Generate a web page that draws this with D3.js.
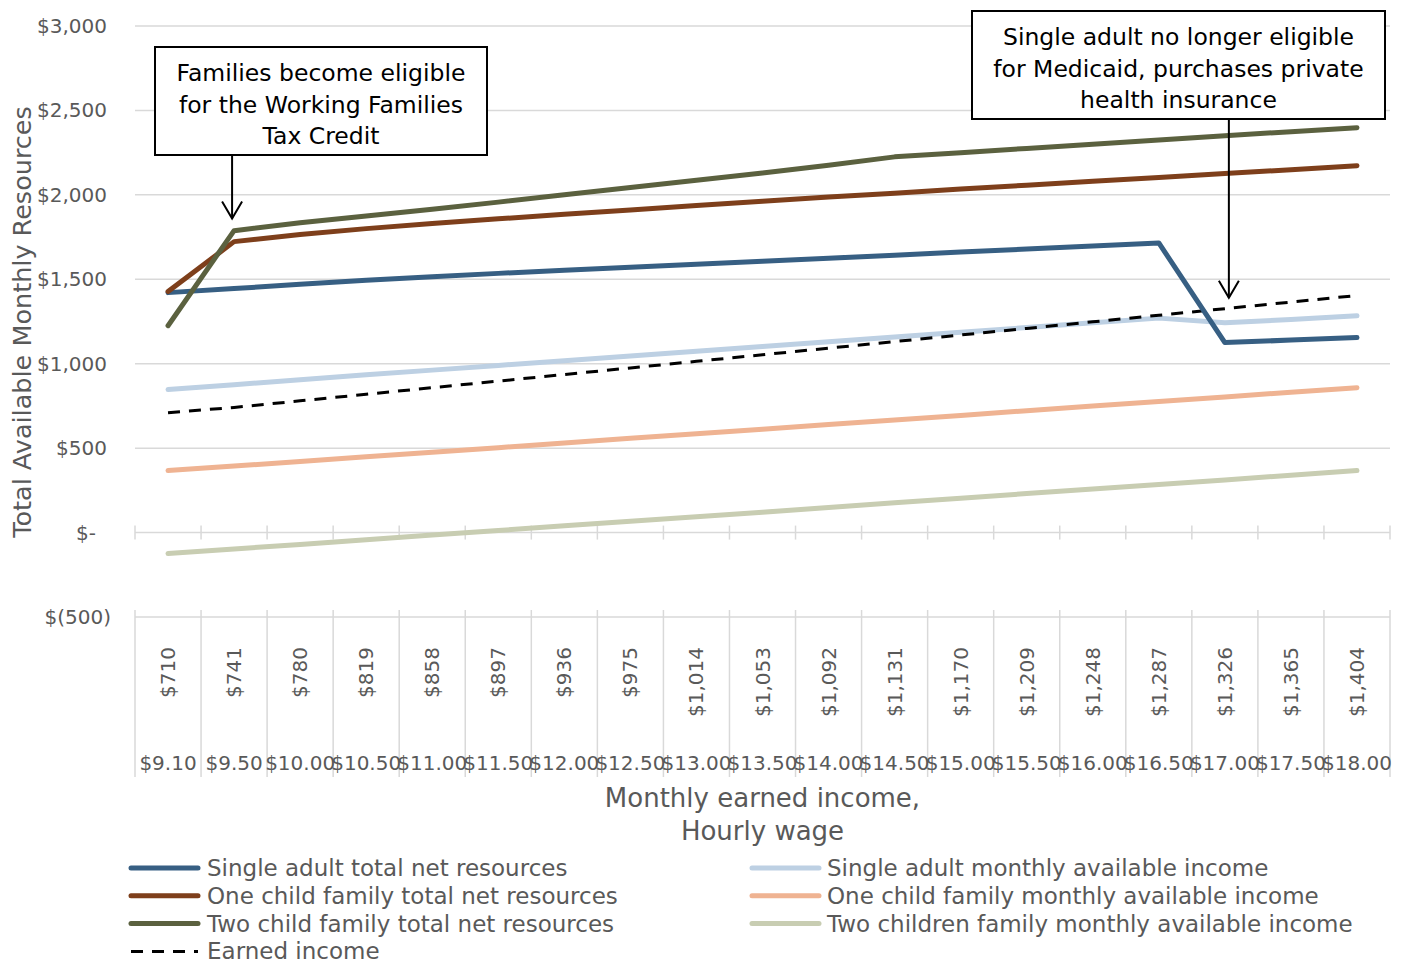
<!DOCTYPE html>
<html>
<head>
<meta charset="utf-8">
<script src="https://cdn.jsdelivr.net/npm/d3@7"></script>
<style>
  body { margin: 0; background: #fff; }
  svg { display: block; font-family: "DejaVu Sans", sans-serif; }
  .grid line { stroke: #d9d9d9; stroke-width: 1.5; }
  .axisText { fill: #595959; }
</style>
</head>
<body>
<svg id="chart" width="1405" height="964"></svg>
<script>
// monthly earned income (top category level) and hourly wage (bottom level)
let monthlyLabels = ["$710","$741","$780","$819","$858","$897","$936","$975","$1,014","$1,053",
    "$1,092","$1,131","$1,170","$1,209","$1,248","$1,287","$1,326","$1,365","$1,404"]
let wageLabels = ["$9.10","$9.50","$10.00","$10.50","$11.00","$11.50","$12.00","$12.50","$13.00","$13.50",
    "$14.00","$14.50","$15.00","$15.50","$16.00","$16.50","$17.00","$17.50","$18.00"]

let singleTotal = [1421,1445,1470,1494,1515,1535,1553,1571,1589,1607,1625,1643,1661,1679,1697,1715,1125,1140,1155]
let oneChildTotal = [1427,1723,1765,1800,1830,1858,1885,1911,1937,1962,1987,2010,2034,2057,2080,2103,2126,2149,2173]
let twoChildTotal = [1225,1788,1835,1875,1915,1957,2000,2043,2087,2130,2175,2225,2250,2275,2300,2325,2350,2374,2398]
let singleAvail = [847,876,905,934,962,990,1018,1046,1074,1102,1130,1158,1186,1214,1242,1270,1243,1262,1284]
let oneChildAvail = [367,394,421,449,476,503,531,558,585,612,640,667,694,722,749,776,803,831,858]
let twoChildAvail = [-124,-97,-70,-42,-15,12,40,67,94,121,149,176,203,231,258,285,312,340,367]
let earnedIncome = [710,741,780,819,858,897,936,975,1014,1053,1092,1131,1170,1209,1248,1287,1326,1365,1404]

let yTicks = [-500,0,500,1000,1500,2000,2500,3000]

let series = [
    {name: "Two children family monthly available income", values: twoChildAvail, color: "#c8cdb2", dash: null, w: 5},
    {name: "One child family monthly available income", values: oneChildAvail, color: "#efb392", dash: null, w: 5},
    {name: "Single adult monthly available income", values: singleAvail, color: "#bdd0e3", dash: null, w: 5},
    {name: "Earned income", values: earnedIncome, color: "#000000", dash: "12,9", w: 3},
    {name: "Single adult total net resources", values: singleTotal, color: "#375f83", dash: null, w: 5},
    {name: "One child family total net resources", values: oneChildTotal, color: "#7e3f1b", dash: null, w: 5},
    {name: "Two child family total net resources", values: twoChildTotal, color: "#5b613f", dash: null, w: 5}
]

let legendLeft = [
    {name: "Single adult total net resources", color: "#375f83"},
    {name: "One child family total net resources", color: "#7e3f1b"},
    {name: "Two child family total net resources", color: "#5b613f"},
    {name: "Earned income", color: "#000000", dash: "12,9"}
]
let legendRight = [
    {name: "Single adult monthly available income", color: "#bdd0e3"},
    {name: "One child family monthly available income", color: "#efb392"},
    {name: "Two children family monthly available income", color: "#c8cdb2"}
]

let svg = d3.select('#chart')
let plotLeft = 135, plotRight = 1390, plotTop = 26, plotBottom = 617

let x = d3.scaleBand()
    .domain(d3.range(monthlyLabels.length))
    .range([plotLeft, plotRight])
    .padding(0)

let y = d3.scaleLinear()
    .domain([-500, 3000])
    .range([plotBottom, plotTop])

let fmt = v => v === 0 ? "$-" : v < 0 ? "$(" + d3.format(",")(-v) + ")" : "$" + d3.format(",")(v)

// gridlines
svg.append('g').attr('class', 'grid')
    .selectAll('line')
    .data(yTicks.filter(d => d > 0))
    .enter().append('line')
    .attr('x1', plotLeft).attr('x2', plotRight)
    .attr('y1', d => y(d)).attr('y2', d => y(d))

// y labels
svg.append('g')
    .selectAll('text')
    .data(yTicks)
    .enter().append('text')
    .attr('class', 'axisText')
    .attr('x', d => d < 0 ? 111 : d === 0 ? 96 : 107)
    .attr('y', d => y(d))
    .attr('dy', '0.35em')
    .attr('text-anchor', 'end')
    .style('font-size', '20px')
    .text(fmt)

// zero axis with crossing ticks
let bounds = d3.range(monthlyLabels.length + 1).map(i => i < monthlyLabels.length ? x(i) : x(i - 1) + x.bandwidth())
let axisG = svg.append('g').attr('class', 'grid')
axisG.append('line')
    .attr('x1', plotLeft).attr('x2', plotRight)
    .attr('y1', y(0)).attr('y2', y(0))
axisG.selectAll('.zt').data(bounds).enter().append('line')
    .attr('x1', d => d).attr('x2', d => d)
    .attr('y1', y(0) - 7).attr('y2', y(0) + 7)

// category axis with two label levels
axisG.append('line')
    .attr('x1', plotLeft).attr('x2', plotRight)
    .attr('y1', y(-500)).attr('y2', y(-500))
axisG.selectAll('.ct').data(bounds).enter().append('line')
    .attr('x1', d => d).attr('x2', d => d)
    .attr('y1', y(-500) - 7).attr('y2', 777)

svg.append('g')
    .selectAll('text')
    .data(monthlyLabels)
    .enter().append('text')
    .attr('class', 'axisText')
    .attr('transform', (d, i) => `translate(${x(i) + x.bandwidth() / 2}, 647) rotate(-90)`)
    .attr('dy', '0.35em')
    .attr('text-anchor', 'end')
    .style('font-size', '20px')
    .text(d => d)

svg.append('g')
    .selectAll('text')
    .data(wageLabels)
    .enter().append('text')
    .attr('class', 'axisText')
    .attr('x', (d, i) => x(i) + x.bandwidth() / 2)
    .attr('y', 770)
    .attr('text-anchor', 'middle')
    .style('font-size', '20px')
    .text(d => d)

// axis titles
svg.append('text')
    .attr('class', 'axisText')
    .attr('transform', `translate(31, 322) rotate(-90)`)
    .attr('text-anchor', 'middle')
    .style('font-size', '25.5px')
    .text('Total Available Monthly Resources')

svg.append('text')
    .attr('class', 'axisText')
    .attr('x', (plotLeft + plotRight) / 2).attr('y', 807)
    .attr('text-anchor', 'middle')
    .style('font-size', '26px')
    .text('Monthly earned income,')
svg.append('text')
    .attr('class', 'axisText')
    .attr('x', (plotLeft + plotRight) / 2).attr('y', 840)
    .attr('text-anchor', 'middle')
    .style('font-size', '26px')
    .text('Hourly wage')

// lines
let line = d3.line()
    .x((d, i) => x(i) + x.bandwidth() / 2)
    .y(d => y(d))

svg.append('g')
    .selectAll('path')
    .data(series)
    .enter().append('path')
    .attr('d', d => line(d.values))
    .attr('fill', 'none')
    .attr('stroke', d => d.color)
    .attr('stroke-width', d => d.w)
    .attr('stroke-dasharray', d => d.dash)
    .attr('stroke-linecap', d => d.dash ? 'butt' : 'round')
    .attr('stroke-linejoin', 'round')

// annotations
let notes = [
    {lines: ["Families become eligible", "for the Working Families", "Tax Credit"],
     box: [155, 47, 332, 108], idx: 1, shift: -2, from: 155, to: 1860},
    {lines: ["Single adult no longer eligible", "for Medicaid, purchases private", "health insurance"],
     box: [972, 11, 413, 108], idx: 16, shift: 4, from: 119, to: 1390}
]
notes.forEach(n => {
    let g = svg.append('g')
    g.append('rect')
        .attr('x', n.box[0]).attr('y', n.box[1])
        .attr('width', n.box[2]).attr('height', n.box[3])
        .attr('fill', '#fff').attr('stroke', '#000').attr('stroke-width', 2)
    g.selectAll('text').data(n.lines).enter().append('text')
        .attr('x', n.box[0] + n.box[2] / 2)
        .attr('y', (d, i) => n.box[1] + 26 + i * 31.5)
        .attr('dy', '0.35em')
        .attr('text-anchor', 'middle')
        .style('font-size', '23.5px')
        .attr('fill', '#000')
        .text(d => d)
    let ax = x(n.idx) + x.bandwidth() / 2 + n.shift
    let ay = y(n.to)
    g.append('line')
        .attr('x1', ax).attr('x2', ax)
        .attr('y1', n.from).attr('y2', ay)
        .attr('stroke', '#000').attr('stroke-width', 2)
    g.append('path')
        .attr('d', `M${ax - 10},${ay - 17} L${ax},${ay} L${ax + 10},${ay - 17}`)
        .attr('fill', 'none').attr('stroke', '#000').attr('stroke-width', 2)
})

// legend
let drawLegend = (items, lx, tx) => {
    let g = svg.append('g')
    items.forEach((d, i) => {
        let ly = 868 + i * 27.8
        g.append('line')
            .attr('x1', lx).attr('x2', lx + 67)
            .attr('y1', ly).attr('y2', ly)
            .attr('stroke', d.color)
            .attr('stroke-width', d.dash ? 3 : 5)
            .attr('stroke-dasharray', d.dash || null)
            .attr('stroke-linecap', d.dash ? 'butt' : 'round')
        g.append('text')
            .attr('class', 'axisText')
            .attr('x', tx).attr('y', ly)
            .attr('dy', '0.35em')
            .style('font-size', '23px')
            .text(d.name)
    })
}
drawLegend(legendLeft, 131, 207)
drawLegend(legendRight, 752, 827)
</script>
</body>
</html>
